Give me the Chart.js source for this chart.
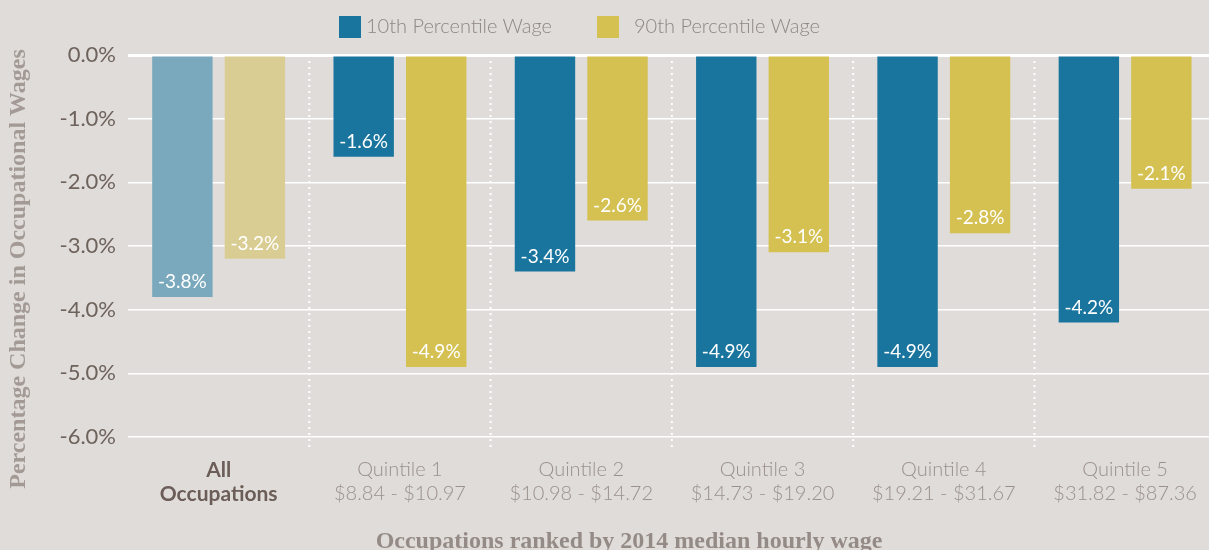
<!DOCTYPE html>
<html>
<head>
<meta charset="utf-8">
<script src="https://cdn.jsdelivr.net/npm/chart.js@4.4.1/dist/chart.umd.min.js"></script>
<style>
  html, body { margin: 0; padding: 0; background: #e0dcd9; overflow: hidden; }
  #wrap { position: relative; width: 1218px; height: 560px; }
  .legend { position: absolute; top: 13px; font-family: Lato, sans-serif; font-weight: 300; font-size: 20px; color: #8f8783; }
  .legend span.box { position: absolute; top: 3px; width: 22px; height: 22px; }
  .legend span.txt { position: absolute; top: 0; white-space: nowrap; }
</style>
</head>
<body>
<div id="wrap">
  <div class="legend">
    <span class="box" style="left:339px;background:#1a759e"></span>
    <span class="txt" style="left:366px">10th Percentile Wage</span>
    <span class="box" style="left:597px;background:#d5c052"></span>
    <span class="txt" style="left:634px">90th Percentile Wage</span>
  </div>
  <canvas id="wageChart"></canvas>
</div>
<script>
const categories = [
    ['All', 'Occupations'],
    ['Quintile 1', '$8.84 - $10.97'],
    ['Quintile 2', '$10.98 - $14.72'],
    ['Quintile 3', '$14.73 - $19.20'],
    ['Quintile 4', '$19.21 - $31.67'],
    ['Quintile 5', '$31.82 - $87.36']
];
const p10Values = [-3.8, -1.6, -3.4, -4.9, -4.9, -4.2];
const p90Values = [-3.2, -4.9, -2.6, -3.1, -2.8, -2.1];
const seriesNames = ['10th Percentile Wage', '90th Percentile Wage'];
const yTitle = 'Percentage Change in Occupational Wages';
const xTitle = 'Occupations ranked by 2014 median hourly wage';

const BLUE = '#1a759e', BLUE_LIGHT = '#7aa8bd';
const GOLD = '#d5c052', GOLD_LIGHT = '#dacd94';

// first group ("All Occupations") is drawn faded
const blueColors = categories.map((c, i) => i === 0 ? BLUE_LIGHT : BLUE);
const goldColors = categories.map((c, i) => i === 0 ? GOLD_LIGHT : GOLD);

const barLabels = {
    id: 'barLabels',
    afterDatasetsDraw(chart) {
        const ctx = chart.ctx;
        ctx.save();
        ctx.font = '19px Lato, sans-serif';
        ctx.fillStyle = '#ffffff';
        ctx.textAlign = 'center';
        ctx.textBaseline = 'middle';
        chart.data.datasets.forEach((ds, di) => {
            chart.getDatasetMeta(di).data.forEach((bar, i) => {
                ctx.fillText(ds.data[i].toFixed(1) + '%', bar.x, bar.y - 15);
            });
        });
        ctx.restore();
    }
};

const separators = {
    id: 'separators',
    beforeDatasetsDraw(chart) {
        const ctx = chart.ctx;
        const x = chart.scales.x;
        const area = chart.chartArea;
        ctx.save();
        ctx.strokeStyle = '#ffffff';
        ctx.lineWidth = 2;
        ctx.setLineDash([2, 4]);
        for (let i = 0; i < categories.length - 1; i++) {
            const px = (x.getPixelForValue(i) + x.getPixelForValue(i + 1)) / 2;
            ctx.beginPath();
            ctx.moveTo(px, area.top);
            ctx.lineTo(px, area.bottom + 12);
            ctx.stroke();
        }
        ctx.restore();
    }
};

// axis titles, placed like the original rather than centred on the plot
const axisTitles = {
    id: 'axisTitles',
    afterDraw(chart) {
        const ctx = chart.ctx;
        ctx.save();
        ctx.font = 'bold 24px "Liberation Serif", serif';
        ctx.textAlign = 'center';
        ctx.textBaseline = 'middle';
        ctx.fillStyle = '#958b86';
        ctx.fillText(xTitle, 629, 542);
        ctx.fillStyle = '#a39a95';
        ctx.translate(19, 269);
        ctx.rotate(-Math.PI / 2);
        ctx.fillText(yTitle, 0, 0);
        ctx.restore();
    }
};

new Chart(document.getElementById('wageChart'), {
    type: 'bar',
    data: {
        labels: categories,
        datasets: [
            {
                label: seriesNames[0],
                data: p10Values,
                backgroundColor: blueColors,
                categoryPercentage: 0.8,
                barPercentage: 0.833
            },
            {
                label: seriesNames[1],
                data: p90Values,
                backgroundColor: goldColors,
                categoryPercentage: 0.8,
                barPercentage: 0.833
            }
        ]
    },
    options: {
        responsive: true,
        maintainAspectRatio: false,
        animation: false,
        layout: { padding: { top: 55, right: 1, left: 0, bottom: 0 } },
        plugins: {
            legend: { display: false },
            tooltip: { enabled: false }
        },
        scales: {
            x: {
                grid: { display: false, drawTicks: false },
                border: { display: false },
                ticks: {
                    padding: 21,
                    maxRotation: 0,
                    autoSkip: false,
                    font: (c) => c.index === 0
                        ? { family: 'Lato, sans-serif', size: 21, weight: 'bold', lineHeight: 1.143 }
                        : { family: 'Lato, sans-serif', size: 20, weight: '300', lineHeight: 1.2 },
                    color: (c) => c.index === 0 ? '#6b5d57' : '#9a918d'
                },
                afterFit(scale) { scale.height = 123; }
            },
            y: {
                min: -6,
                max: 0,
                ticks: {
                    stepSize: 1,
                    padding: 12,
                    color: '#6e625c',
                    font: { family: 'Lato, sans-serif', size: 22 },
                    callback: (v) => v.toFixed(1) + '%'
                },
                grid: {
                    color: '#ffffff',
                    drawTicks: false,
                    lineWidth: (c) => c.tick && c.tick.value === 0 ? 3 : 1.5
                },
                border: { display: false },
                afterFit(scale) { scale.width = 128; }
            }
        }
    },
    plugins: [separators, barLabels, axisTitles]
});
</script>
</body>
</html>
